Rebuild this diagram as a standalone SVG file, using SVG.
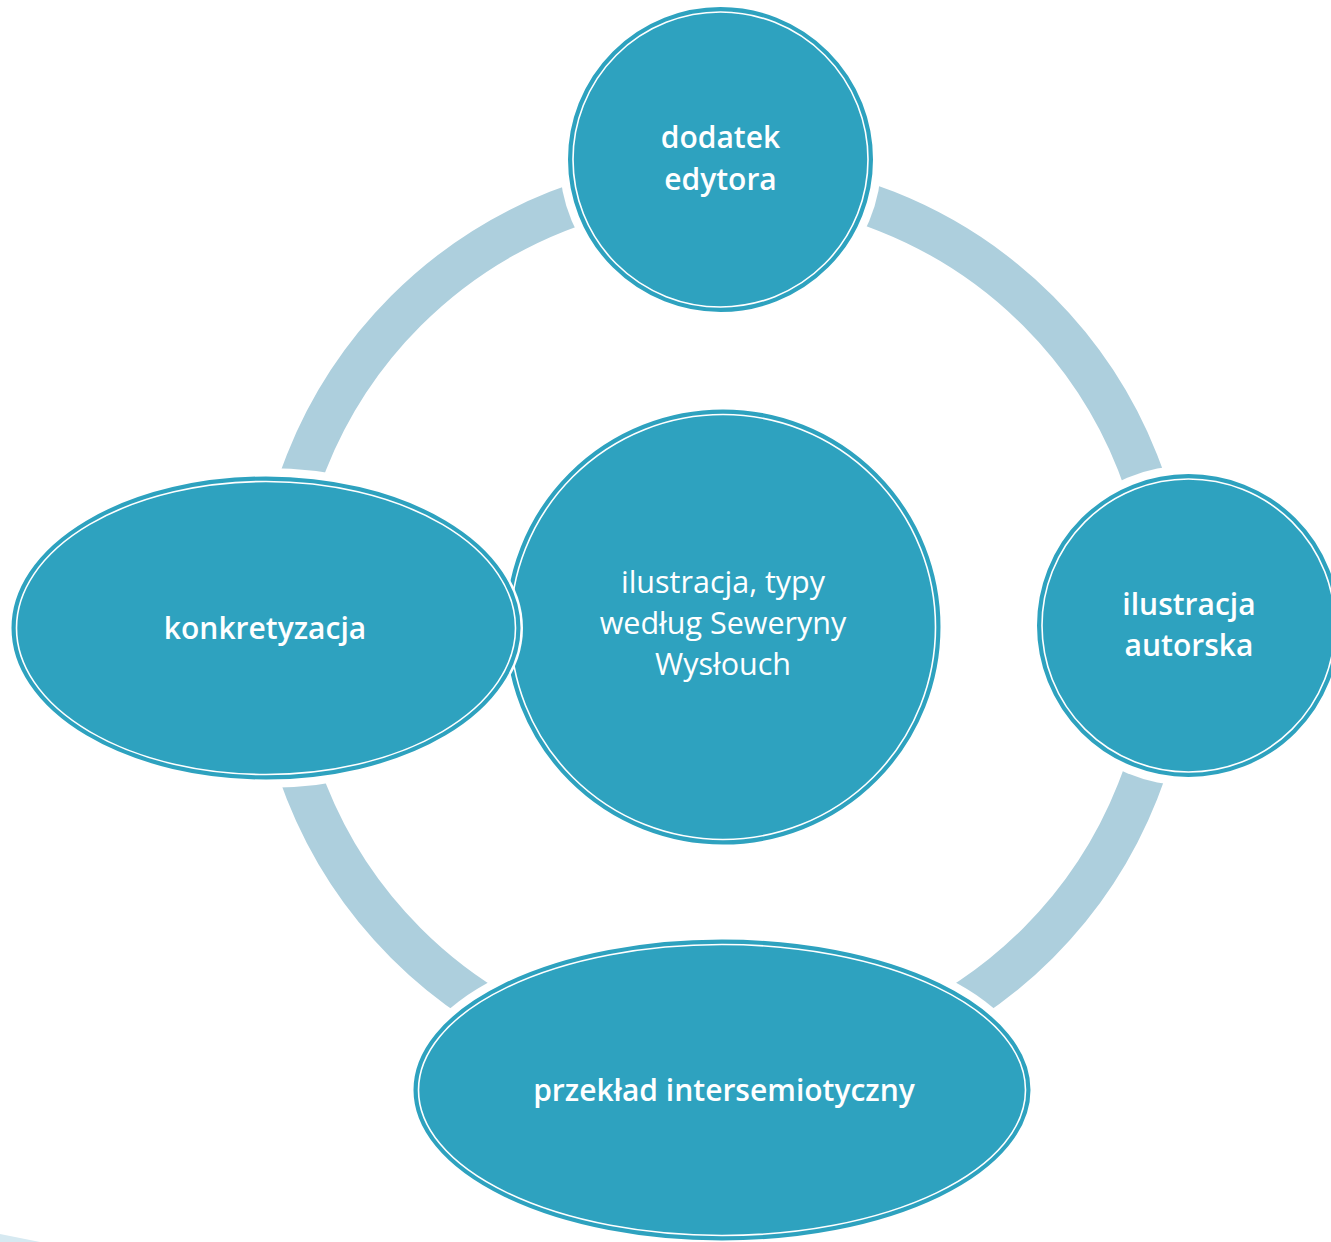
<svg xmlns="http://www.w3.org/2000/svg" width="1331" height="1242" viewBox="0 0 1331 1242">
<style>
.ring{fill:none;stroke:#ADCFDD;stroke-width:42}
.node{fill:#2EA2BF;stroke:#2EA2BF;stroke-width:3}
.inner{fill:none;stroke:#FFFFFF;stroke-width:1.6}
.halo{fill:#FFFFFF}
.lbl{font-family:"Open Sans","Liberation Sans",sans-serif;font-weight:600;font-size:30px;fill:#FFFFFF;text-anchor:middle}
.lblc{font-family:"Open Sans","Liberation Sans",sans-serif;font-weight:400;font-size:30.5px;fill:#FFFFFF;text-anchor:middle}
</style>
<defs>
<mask id="gaps" maskUnits="userSpaceOnUse" x="0" y="0" width="1331" height="1242">
<rect x="0" y="0" width="1331" height="1242" fill="#FFFFFF"/>
<circle cx="720.5" cy="159.5" r="161" fill="#000000"/>
<circle cx="1188.5" cy="625.5" r="160" fill="#000000"/>
<ellipse cx="265" cy="628" rx="262" ry="160" fill="#000000"/>
<ellipse cx="722" cy="1090" rx="317" ry="159" fill="#000000"/>
</mask>
</defs>
<rect x="0" y="0" width="1331" height="1242" fill="#FFFFFF"/>
<polygon points="0,1234 40,1242 0,1242" fill="#D6E9F1"/>
<g id="connectors">
<circle class="ring" cx="722" cy="627" r="447" mask="url(#gaps)"/>
</g>
<g id="center">
<circle class="node" cx="723" cy="627" r="216"/>
<circle class="inner" cx="723" cy="627" r="212.5"/>
<text class="lblc" x="723" y="593">ilustracja, typy</text>
<text class="lblc" x="723" y="634">według Seweryny</text>
<text class="lblc" x="723" y="675">Wysłouch</text>
</g>
<g id="top">
<circle class="node" cx="720.5" cy="159.5" r="151"/>
<circle class="inner" cx="720.5" cy="159.5" r="147.5"/>
<text class="lbl" x="720.5" y="148">dodatek</text>
<text class="lbl" x="720.5" y="190">edytora</text>
</g>
<g id="right">
<circle class="node" cx="1188.5" cy="625.5" r="150"/>
<circle class="inner" cx="1188.5" cy="625.5" r="146.5"/>
<text class="lbl" x="1189" y="615">ilustracja</text>
<text class="lbl" x="1189" y="656">autorska</text>
</g>
<g id="bottom">
<ellipse class="node" cx="722" cy="1090" rx="307" ry="149"/>
<ellipse class="inner" cx="722" cy="1090" rx="303.5" ry="145.5"/>
<text class="lbl" x="724" y="1101">przekład intersemiotyczny</text>
</g>
<g id="left">
<ellipse class="halo" cx="265" cy="628" rx="258" ry="155"/>
<ellipse class="node" cx="266" cy="628" rx="253" ry="150"/>
<ellipse class="inner" cx="266" cy="628" rx="249.5" ry="146.5"/>
<text class="lbl" x="265" y="639">konkretyzacja</text>
</g>
</svg>
